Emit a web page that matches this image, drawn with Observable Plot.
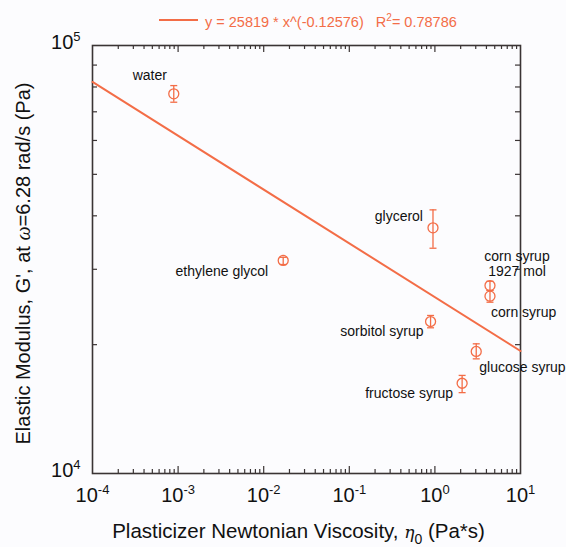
<!DOCTYPE html>
<html><head><meta charset="utf-8">
<script src="https://cdn.jsdelivr.net/npm/d3@7"></script>
<script src="https://cdn.jsdelivr.net/npm/@observablehq/plot@0.6"></script>
<style>
body{margin:0;background:#fcfcfe;}
svg{display:block}
</style>
</head><body><div id="chart"></div>
<script>
// ---- data ----
const plasticizers = ["water","ethylene glycol","glycerol","corn syrup\n1927 mol","corn syrup","sorbitol syrup","glucose syrup","fructose syrup"];
const viscosity   = [0.00089, 0.0169, 0.95, 4.4, 4.4, 0.89, 3.04, 2.08];      // Pa*s
const modulus     = [77100, 31460, 37500, 27480, 25960, 22650, 19280, 16250]; // Pa
const modulusLow  = [73700, 30780, 33600, 26770, 25130, 21900, 18530, 15450];
const modulusHigh = [80600, 32000, 41300, 28130, 26770, 23400, 20090, 16950];
const fitX = [1e-4, 10];
const fitY = [82200, 19330];
const xTickValues = [1e-4, 1e-3, 1e-2, 1e-1, 1, 10];
const xTickExponents = ["-4","-3","-2","-1","0","1"];
const yTickValues = [1e4, 1e5];
const yTickExponents = ["4","5"];
const legendText = "y = 25819 * x^(-0.12576)";
const legendR2 = "0.78786";
const xTitle = "Plasticizer Newtonian Viscosity, η0 (Pa*s)";
const yTitle = "Elastic Modulus, G', at ω=6.28 rad/s (Pa)";

// ---- layout (label placement relative to points) ----
const labelLayout = [
  {dx:-24, dy:-19, anchor:"middle"},
  {dx:-15, dy:11, anchor:"end"},
  {dx:-10, dy:-12, anchor:"end"},
  {dx:27, dy:-22, anchor:"middle"},
  {dx:1, dy:16, anchor:"start"},
  {dx:-7, dy:10, anchor:"end"},
  {dx:3, dy:16, anchor:"start"},
  {dx:-9, dy:10, anchor:"end"}
];

const orange = "#f36d47";
const axisColor = "#3a3434";
const data = plasticizers.map((n,i)=>({name:n, x:viscosity[i], y:modulus[i], lo:modulusLow[i], hi:modulusHigh[i]}));
const fit = fitX.map((x,i)=>({x, y:fitY[i]}));

const xMajor = xTickValues.slice(1, -1);
const xMinor = d3.range(-4, 1).flatMap(e => d3.range(2, 10).map(k => k * Math.pow(10, e)));
const yMinor = d3.range(2, 10).map(k => k * 1e4);

const capSymbol = {draw(ctx, size){ const w = Math.sqrt(size/Math.PI); ctx.moveTo(-w,0); ctx.lineTo(w,0); }};
const frameH = 547 - 45 - 74;
const frameW = 566 - 92 - 46;

const xFmt = d => "10^" + xTickExponents[xTickValues.indexOf(d)];
const yFmt = d => "10^" + yTickExponents[yTickValues.indexOf(d)];

const legendMark = (index, scales, values, dims) => {
  const g = d3.create("svg:g");
  g.append("line").attr("x1",159).attr("x2",198).attr("y1",20).attr("y2",20)
    .attr("stroke",orange).attr("stroke-width",2);
  const t = g.append("text").attr("x",205).attr("y",27).attr("fill",orange)
    .attr("text-anchor","start").attr("font-size",14.5).style("white-space","pre");
  t.append("tspan").text(legendText + "   R");
  t.append("tspan").attr("dy",-6).attr("font-size",10).text("2");
  t.append("tspan").attr("dy",6).text("= " + legendR2);
  return g.node();
};

const plot = Plot.plot({
  width: 566, height: 547,
  marginLeft: 92, marginRight: 46, marginTop: 45, marginBottom: 74,
  style: {fontFamily: "'Liberation Sans', Arial, sans-serif", background: "transparent", color: "#111"},
  x: {type: "log", domain: [1e-4, 10]},
  y: {type: "log", domain: [1e4, 1e5]},
  marks: [
    // inward ticks
    Plot.tickX(xMinor, {x: d=>d, insetTop: frameH-4, stroke: axisColor, strokeWidth: 1.2}),
    Plot.tickX(xMinor, {x: d=>d, insetBottom: frameH-4, stroke: axisColor, strokeWidth: 1.2}),
    Plot.tickX(xMajor, {x: d=>d, insetTop: frameH-7, stroke: axisColor, strokeWidth: 1.2}),
    Plot.tickX(xMajor, {x: d=>d, insetBottom: frameH-7, stroke: axisColor, strokeWidth: 1.2}),
    Plot.tickY(yMinor, {y: d=>d, insetRight: frameW-5, stroke: axisColor, strokeWidth: 1.2}),
    Plot.tickY(yMinor, {y: d=>d, insetLeft: frameW-5, stroke: axisColor, strokeWidth: 1.2}),
    Plot.frame({stroke: axisColor, strokeWidth: 1.6}),
    // axes labels
    Plot.axisX(xTickValues, {anchor: "bottom", tickSize: 0, tickPadding: 14, fontSize: 20, tickFormat: xFmt, label: null, fill: "#111"}),
    Plot.axisY(yTickValues, {anchor: "left", tickSize: 0, tickPadding: 12, fontSize: 20, dy: -3, tickFormat: yFmt, label: null, fill: "#111"}),
    // fit line
    Plot.line(fit, {x: "x", y: "y", stroke: orange, strokeWidth: 2}),
    // error bars
    Plot.ruleX(data, {x: "x", y1: "lo", y2: "hi", stroke: orange, strokeWidth: 1.3}),
    Plot.dot(data, {x: "x", y: "lo", symbol: capSymbol, r: 3.5, stroke: orange, fill: "none", strokeWidth: 1.3}),
    Plot.dot(data, {x: "x", y: "hi", symbol: capSymbol, r: 3.5, stroke: orange, fill: "none", strokeWidth: 1.3}),
    Plot.dot(data, {x: "x", y: "y", r: 5, stroke: orange, fill: "none", strokeWidth: 1.3}),
    // point labels
    ...data.map((d,i) => Plot.text([d], {x: "x", y: "y", text: "name", dx: labelLayout[i].dx, dy: labelLayout[i].dy,
      textAnchor: labelLayout[i].anchor, fontSize: 14, fill: "#111", lineHeight: 1.1})),
    // titles
    Plot.text([xTitle], {frameAnchor: "bottom", text: d=>d, dy: 58, dx: -8, fontSize: 20.5, fill: "#111", textAnchor: "middle", lineAnchor: "middle"}),
    Plot.text([yTitle], {frameAnchor: "left", text: d=>d, dx: -69, dy: 4, rotate: -90, fontSize: 20, fill: "#111", textAnchor: "middle", lineAnchor: "middle"}),
    legendMark
  ]
});

// rich text post-processing (superscripts, italics)
const NS = "http://www.w3.org/2000/svg";
function rich(el, parts) {
  el.textContent = "";
  for (const p of parts) {
    const ts = document.createElementNS(NS, "tspan");
    for (const k in (p.a || {})) ts.setAttribute(k, p.a[k]);
    ts.textContent = p.t;
    el.appendChild(ts);
  }
}
plot.querySelectorAll("text").forEach(el => {
  const s = el.textContent;
  const m = /^10\^(-?\d+)$/.exec(s);
  if (m) {
    rich(el, [{t: "10"}, {t: m[1], a: {dy: -8, "font-size": 13}}]);
  } else if (s === xTitle) {
    rich(el, [{t: "Plasticizer Newtonian Viscosity, "}, {t: "η", a: {"font-style": "italic", "font-family": "DejaVu Serif, serif", "font-size": 17}},
      {t: "0", a: {dy: 6, "font-size": 14}}, {t: " (Pa*s)", a: {dy: -6}}]);
  } else if (s === yTitle) {
    rich(el, [{t: "Elastic Modulus, G', at "}, {t: "ω", a: {"font-style": "italic", "font-family": "Liberation Serif, serif"}}, {t: "=6.28 rad/s (Pa)"}]);
  }
});
document.getElementById("chart").appendChild(plot);
</script>
</body></html>
